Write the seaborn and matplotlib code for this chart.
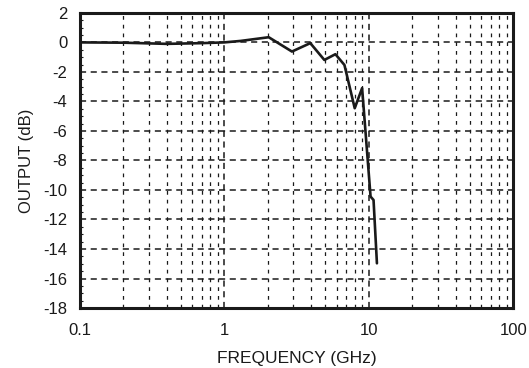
import matplotlib
matplotlib.use("Agg")
import matplotlib.pyplot as plt
import matplotlib.ticker as mticker
import pandas as pd
import seaborn as sns

# frequency response
freq_ghz = [0.1, 0.2, 0.4, 0.7, 1.0, 1.3, 2.03, 2.94, 3.94, 4.93, 5.88, 6.79, 8.0, 9.0, 10.3, 10.8, 11.4]
output_db = [0.0, -0.02, -0.1, -0.05, 0.0, 0.1, 0.35, -0.62, -0.05, -1.19, -0.8, -1.53, -4.46, -3.1, -10.45, -10.68, -14.97]

x_ticks = [0.1, 1, 10, 100]
x_tick_labels = ["0.1", "1", "10", "100"]
y_ticks = list(range(-18, 3, 2))

df = pd.DataFrame({"freq": freq_ghz, "out": output_db})

sns.set_theme(style="ticks")
plt.rcParams["font.family"] = ["Liberation Sans", "DejaVu Sans"]
plt.rcParams["axes.unicode_minus"] = False

fig = plt.figure(figsize=(5.29, 3.68), dpi=100)
ax = fig.add_axes([0.151, 0.163, 0.819, 0.802])

sns.lineplot(data=df, x="freq", y="out", sort=False, color="#1a1a1a",
             linewidth=1.9, ax=ax)

ax.set_xscale("log")
ax.set_xlim(0.1, 100)
ax.set_ylim(-18, 2)
ax.set_xticks(x_ticks)
ax.set_xticklabels(x_tick_labels)
ax.xaxis.set_minor_locator(mticker.LogLocator(base=10, subs=range(2, 10)))
ax.xaxis.set_minor_formatter(mticker.NullFormatter())
ax.set_yticks(y_ticks)
ax.yaxis.set_minor_locator(mticker.MultipleLocator(0.5))

ax.grid(which="major", color="#1a1a1a", linestyle=(0, (4, 3)), linewidth=1.1)
ax.grid(which="minor", axis="x", color="#1a1a1a", linestyle=(0, (3, 4)), linewidth=0.9)

ax.tick_params(axis="both", which="major", direction="in", length=0,
               labelsize=12, colors="#1a1a1a")
ax.tick_params(axis="x", which="major", pad=11)
ax.tick_params(axis="y", which="major", pad=9)
ax.tick_params(axis="y", which="minor", direction="in", length=2.5, width=0.8, color="#1a1a1a")
ax.tick_params(axis="x", which="minor", length=0)

for spine in ax.spines.values():
    spine.set_visible(True)
    spine.set_linewidth(2.2)
    spine.set_color("#1a1a1a")

ax.set_xlabel("FREQUENCY (GHz)", fontsize=12.5, color="#1a1a1a", labelpad=9)
ax.set_ylabel("OUTPUT (dB)", fontsize=12, color="#1a1a1a", labelpad=7)

fig.savefig("out.png", dpi=100)
plt.close(fig)
